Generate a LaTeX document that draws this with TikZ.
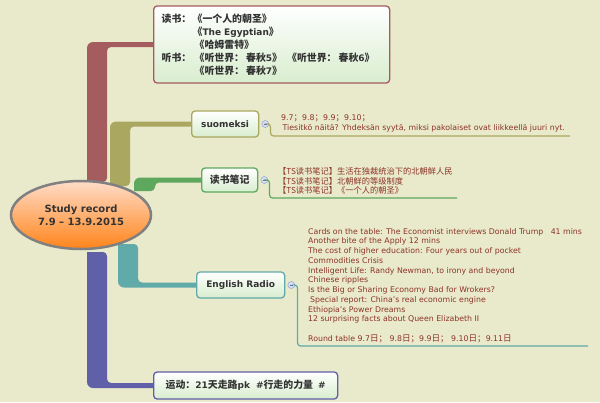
\documentclass[tikz,border=0pt]{standalone}
\usepackage{fontspec}
\setmainfont{DejaVu Sans}
\newfontfamily\cjk{Noto Sans CJK SC}[Scale=1.1]
\usetikzlibrary{shapes.geometric,backgrounds}
\definecolor{paper}{RGB}{233,233,203}
\definecolor{cmaroon}{RGB}{164,92,94}
\definecolor{colive}{RGB}{170,168,96}
\definecolor{cgreen}{RGB}{94,168,94}
\definecolor{cteal}{RGB}{96,170,170}
\definecolor{cpurple}{RGB}{96,96,168}
\definecolor{peach}{RGB}{255,220,200}
\definecolor{corange}{RGB}{255,132,26}
\definecolor{ringgray}{RGB}{128,128,128}
\definecolor{leaf}{RGB}{216,237,206}
\definecolor{ink}{RGB}{51,51,51}
\definecolor{note}{RGB}{140,52,40}
\definecolor{foldfill}{RGB}{214,222,242}
\definecolor{folddraw}{RGB}{150,165,210}
\tikzset{
 hub/.style={ellipse, draw=ringgray, line width=2.5pt, minimum width=140pt, minimum height=68pt,
   top color=peach, bottom color=corange, text=ink, align=center, inner sep=0pt,
   font=\bfseries\fontsize{10}{13}\selectfont},
 topic/.style={draw, line width=1.3pt, rounded corners=3.5pt, top color=white, bottom color=leaf,
   text=ink, inner sep=0pt, anchor=west, font=\bfseries\fontsize{9}{13}\selectfont},
 fold/.style={circle, draw=folddraw, fill=foldfill, line width=0.5pt, minimum size=7pt, inner sep=0pt,
   path picture={\draw[folddraw!70!black, line width=0.6pt]
     ([xshift=-1.6pt]path picture bounding box.center) -- ([xshift=1.6pt]path picture bounding box.center);}},
 notes/.style={text=note, font=\fontsize{7.8}{9.75}\selectfont, align=left, inner sep=0pt, anchor=north west},
 underline/.style={line width=1.2pt, rounded corners=3pt}
}
\begin{document}
\begin{tikzpicture}[x=1pt,y=-1pt]
 \useasboundingbox (0,0) rectangle (600,402);

 \node[hub] (study) at (81,215) {Study record\\7.9 – 13.9.2015};

 \node[topic, draw=cmaroon, minimum width=236pt, minimum height=77pt, text width=220pt, align=left] (read) at (153,44.5) {%
   \makebox[31pt][l]{\cjk 读书：}{\cjk 《一个人的朝圣》}\\
   \hspace*{31pt}{\cjk 《}The Egyptian{\cjk 》}\\
   \hspace*{33pt}{\cjk 《哈姆雷特》}\\
   \makebox[33pt][l]{\cjk 听书：}{\cjk 《听世界：\hspace{2pt}春秋}5{\cjk 》}\hspace{5pt}{\cjk 《听世界：\hspace{2pt}春秋}6{\cjk 》}\\
   \hspace*{33pt}{\cjk 《听世界：\hspace{2pt}春秋}7{\cjk 》}};
 \node[topic, draw=colive, minimum width=67pt, minimum height=26pt] (fi) at (191,124) {suomeksi};
 \node[topic, draw=cgreen, minimum width=56pt, minimum height=24pt] (notes) at (201,180) {\cjk 读书笔记};
 \node[topic, draw=cteal, minimum width=88pt, minimum height=26pt] (radio) at (196,285) {English Radio};
 \node[topic, draw=cpurple, minimum width=184pt, minimum height=27pt] (sport) at (153,385.5)
   {{\cjk 运动：}21{\cjk 天走路}pk\hspace{6pt}\#{\cjk 行走的力量}\hspace{5pt}\#};

 \begin{scope}[on background layer]
 \fill[paper] (0,0) rectangle (600,402);
 \fill[cmaroon] (87,182) [rounded corners=6pt] |- ([shift={(8,-2.5)}]read.west) [sharp corners] -- ++(0,5)
   [rounded corners=4pt] -| (107,182) [sharp corners] -- cycle;
 \fill[colive] (110,186) [rounded corners=6pt] |- ([shift={(8,-2.5)}]fi.west) [sharp corners] -- ++(0,5)
   [rounded corners=4pt] -| (130,186) [sharp corners] -- cycle;
 \fill[cgreen] (134,191) [rounded corners=6pt] |- ([shift={(8,-2.5)}]notes.west) [sharp corners] -- ++(0,5)
   [rounded corners=4pt] -| (155,191) [sharp corners] -- cycle;
 \fill[cteal] (118,244) [rounded corners=6pt] |- ([shift={(8,2.5)}]radio.west) [sharp corners] -- ++(0,-5)
   [rounded corners=4pt] -| (138,244) [sharp corners] -- cycle;
 \fill[cpurple] (87,252) [rounded corners=6pt] |- ([shift={(8,2.5)}]sport.west) [sharp corners] -- ++(0,-5)
   [rounded corners=4pt] -| (107,252) [sharp corners] -- cycle;
 \end{scope}

 \node[fold] (fifold) at ([xshift=6pt]fi.east) {};
 \node[fold] (notesfold) at ([xshift=6pt]notes.east) {};
 \node[fold] (radiofold) at ([xshift=6pt]radio.east) {};

 \coordinate (fiend) at (570,136);
 \coordinate (notesend) at (457,198);
 \coordinate (radioend) at (588,346);
 \draw[underline, colive] (fifold.east) -- ++(1.5,0) |- (fiend);
 \draw[underline, cgreen] (notesfold.east) -- ++(1.5,0) |- (notesend);
 \draw[underline, cteal] (radiofold.east) -- ++(2.5,0) |- (radioend);

 \node[notes, font=\fontsize{7.8}{10}\selectfont] (fitext) at (281,115) {9.7{\cjk ；}9.8{\cjk ；}9.9{\cjk ；}9.10{\cjk ；}\\
   \hspace*{1.5pt}Tiesitkö näitä? Yhdeksän syytä, miksi pakolaiset ovat liikkeellä juuri nyt.};
 \node[notes, font=\cjk\fontsize{7.5}{9.6}\selectfont] (notestext) at (278,167.5)
   {【TS读书笔记】生活在独裁统治下的北朝鲜人民\\【TS读书笔记】北朝鲜的等级制度\\【TS读书笔记】《一个人的朝圣》};
 \node[notes] (radiotext) at (308,228) {Cards on the table: The Economist interviews Donald Trump\ \ \ 41 mins\\
   Another bite of the Apply 12 mins\\
   The cost of higher education: Four years out of pocket\\
   Commodities Crisis\\
   Intelligent Life: Randy Newman, to irony and beyond\\
   Chinese ripples\\
   Is the Big or Sharing Economy Bad for Wrokers?\\
   \hspace*{2pt}Special report: China's real economic engine\\
   Ethiopia's Power Dreams\\
   12 surprising facts about Queen Elizabeth II\\[9.75pt]
   Round table 9.7{\cjk 日；}\ 9.8{\cjk 日；}9.9{\cjk 日；}\ 9.10{\cjk 日；}9.11{\cjk 日}};
\end{tikzpicture}
\end{document}
